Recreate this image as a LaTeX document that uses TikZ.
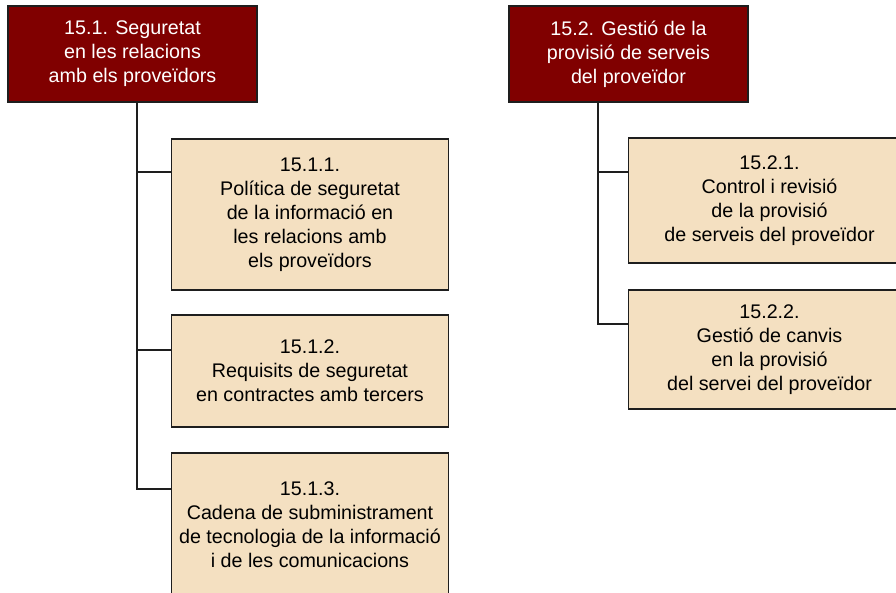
\documentclass[tikz,border=0pt]{standalone}
\usepackage{fontspec}
\setmainfont{Liberation Sans}
\definecolor{secred}{HTML}{800000}
\definecolor{ctrlbeige}{HTML}{F4E0C1}
\definecolor{edgegray}{HTML}{1E1E1E}
\tikzset{
  secbox/.style={draw=edgegray, line width=1.6pt, fill=secred, text=white, align=center, inner sep=0pt},
  ctrlbox/.style={draw=edgegray, line width=1.6pt, fill=ctrlbeige, text=black, align=center, inner sep=0pt},
  link/.style={draw=edgegray, line width=1.6pt}
}
\begin{document}
\begin{tikzpicture}[x=1pt,y=-1pt, font=\fontsize{19.7}{24}\selectfont]
\useasboundingbox (0,0) rectangle (896,593);
\clip (0,0) rectangle (896,593);

% Section 15.1
\node[secbox, minimum width=249pt, minimum height=96pt] (s151) at (132.5,54) {15.1. Seguretat\\en les relacions\\amb els proveïdors};
\node[ctrlbox, minimum width=277pt, minimum height=151pt] (s1511) at (310,214.5) {15.1.1.\\Política de seguretat\\de la informació en\\les relacions amb\\els proveïdors};
\node[ctrlbox, minimum width=277pt, minimum height=112pt] (s1512) at (310,371) {15.1.2.\\Requisits de seguretat\\en contractes amb tercers};
\node[ctrlbox, minimum width=277pt, minimum height=143pt] (s1513) at (310,524.5) {15.1.3.\\Cadena de subministrament\\de tecnologia de la informació\\i de les comunicacions};

% Section 15.2
\node[secbox, minimum width=239pt, minimum height=96pt] (s152) at (628.5,54) {15.2. Gestió de la\\provisió de serveis\\del proveïdor};
\node[ctrlbox, minimum width=282pt, minimum height=125pt] (s1521) at (769.5,200.5) {15.2.1.\\Control i revisió\\de la provisió\\de serveis del proveïdor};
\node[ctrlbox, minimum width=282pt, minimum height=119pt] (s1522) at (769.5,349.5) {15.2.2.\\Gestió de canvis\\en la provisió\\del servei del proveïdor};

% connectors
\coordinate (t151) at ([xshift=4.5pt]s151.south);
\coordinate (t152) at ([xshift=-30.5pt]s152.south);
\coordinate (b1511) at ([yshift=-34pt]s1511.north west);
\coordinate (b1512) at ([yshift=-36pt]s1512.north west);
\coordinate (b1513) at ([yshift=-37pt]s1513.north west);
\coordinate (b1521) at ([yshift=-35pt]s1521.north west);
\coordinate (b1522) at ([yshift=-35pt]s1522.north west);

\draw[link] (t151) |- (b1513);
\draw[link] (b1511 -| t151) -- (b1511);
\draw[link] (b1512 -| t151) -- (b1512);
\draw[link] (t152) |- (b1522);
\draw[link] (b1521 -| t152) -- (b1521);
\end{tikzpicture}
\end{document}
